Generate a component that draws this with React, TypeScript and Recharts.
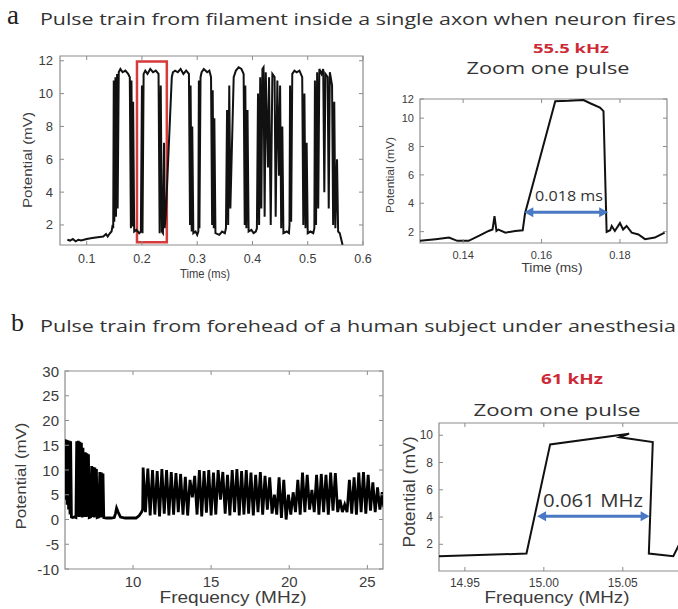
import React from 'react';
import { LineChart, Line, XAxis, YAxis, ReferenceArea, ReferenceLine } from 'recharts';

// ---------- data ----------
// a: pulse train inside a single axon, time (ms) vs potential (mV)
const trainA: [number, number][] = [
  [0.065, 1.1], [0.07, 1.05], [0.075, 1.15], [0.08, 1.0], [0.085, 1.1], [0.09, 1.05], [0.1, 1.15], [0.11, 1.2],
  [0.12, 1.25], [0.13, 1.3], [0.135, 1.45], [0.138, 1.3], [0.142, 1.5], [0.145, 1.6], [0.147, 2.0], [0.148, 1.8],
  [0.149, 10.8], [0.15, 2.2], [0.152, 11.0], [0.153, 2.5], [0.155, 11.2], [0.156, 3.0], [0.158, 11.3], [0.161, 11.5],
  [0.165, 11.3], [0.17, 11.4], [0.175, 11.2], [0.178, 11.0], [0.18, 1.8], [0.181, 10.8], [0.183, 1.9], [0.184, 9.5],
  [0.186, 1.6], [0.19, 1.7], [0.195, 1.5],
  [0.198, 1.6], [0.2, 10.5], [0.201, 1.5], [0.203, 11.2], [0.206, 11.4], [0.21, 11.2], [0.215, 11.5], [0.22, 11.3],
  [0.225, 11.4], [0.23, 11.2], [0.232, 1.5], [0.234, 10.5], [0.236, 1.6], [0.238, 1.5], [0.24, 7.0], [0.241, 1.8],
  [0.243, 2.5], [0.254, 11.0],
  [0.256, 11.3], [0.26, 11.4], [0.265, 11.3], [0.27, 11.5], [0.275, 11.2], [0.28, 11.4], [0.285, 11.2], [0.287, 2.0],
  [0.288, 10.5], [0.29, 1.6], [0.291, 8.0], [0.293, 1.5], [0.297, 1.6], [0.3, 1.4],
  [0.302, 1.6], [0.303, 10.8], [0.304, 1.8], [0.306, 11.0], [0.308, 11.3], [0.312, 11.5], [0.318, 11.3], [0.322, 11.4],
  [0.325, 11.0], [0.327, 2.0], [0.328, 10.2], [0.33, 1.8], [0.331, 8.5], [0.333, 1.5], [0.34, 1.4], [0.345, 1.6], [0.35, 1.5],
  [0.352, 1.8], [0.354, 9.0], [0.356, 2.0], [0.358, 10.5], [0.36, 3.0], [0.366, 11.0], [0.37, 11.4], [0.375, 11.6],
  [0.38, 11.5], [0.384, 11.2], [0.386, 2.0], [0.387, 10.5], [0.389, 1.8], [0.391, 9.0], [0.393, 1.6], [0.398, 1.7],
  [0.402, 1.5], [0.406, 1.6],
  [0.408, 1.8], [0.41, 10.0], [0.412, 2.0], [0.414, 11.0], [0.416, 3.0], [0.418, 11.5], [0.42, 11.6], [0.422, 2.5],
  [0.424, 11.3], [0.428, 5.5], [0.43, 11.0], [0.433, 2.0], [0.436, 11.2], [0.44, 11.0], [0.442, 2.5], [0.445, 10.8],
  [0.448, 5.0], [0.45, 10.5], [0.452, 1.8], [0.454, 8.0], [0.456, 1.5], [0.462, 1.6], [0.466, 1.5],
  [0.467, 2.0], [0.468, 10.5], [0.47, 2.2], [0.472, 11.2], [0.476, 11.4], [0.48, 11.3], [0.485, 11.4], [0.49, 11.0],
  [0.492, 2.0], [0.494, 10.0], [0.496, 1.8], [0.498, 7.0], [0.5, 1.5], [0.505, 1.6], [0.51, 1.5],
  [0.512, 1.8], [0.513, 10.8], [0.515, 2.0], [0.517, 11.3], [0.519, 3.0], [0.521, 11.5], [0.525, 11.2], [0.528, 11.5],
  [0.53, 4.0], [0.532, 11.2], [0.536, 11.0], [0.538, 3.0], [0.54, 11.3], [0.544, 10.5], [0.546, 2.0], [0.548, 9.5],
  [0.55, 1.8], [0.553, 6.0], [0.555, 1.6], [0.558, 1.5], [0.56, 1.2], [0.563, 0.8],
];

// a: zoom on one pulse
const pulseA: [number, number][] = [
  [0.1287, 1.35], [0.133, 1.47], [0.1364, 1.58], [0.1385, 1.35], [0.1414, 1.35], [0.144, 1.7], [0.1465, 2.05],
  [0.1475, 2.15], [0.148, 3.1], [0.1485, 2.05], [0.149, 2.15], [0.1508, 1.93], [0.1533, 2.05], [0.1552, 2.1],
  [0.1558, 3.3], [0.1635, 11.2], [0.1669, 11.22], [0.1707, 11.28], [0.1724, 11.05], [0.1749, 10.75], [0.1758, 10.5],
  [0.1766, 1.98], [0.1775, 2.1], [0.1779, 2.4], [0.1787, 2.05], [0.18, 2.6], [0.1808, 2.15], [0.1817, 2.4],
  [0.183, 1.93], [0.1847, 1.8], [0.1864, 1.47], [0.1889, 1.58], [0.1914, 1.93],
];

// b: pulse train from forehead, frequency (MHz) vs potential (mV)
const trainB: [number, number][] = [
  [5.65, 16.2], [5.7, 4.0], [5.74, 16.1], [5.79, 3.0], [5.83, 16.0], [5.88, 2.0], [5.92, 15.9], [5.97, 1.0], [6.01, 15.8], [6.06, 0.5],
  [6.15, 0.4], [6.25, 0.5], [6.35, 0.4],
  [6.4, 15.8], [6.45, 0.6], [6.5, 15.9], [6.55, 0.5], [6.6, 15.7], [6.65, 0.6], [6.7, 15.5], [6.75, 0.4], [6.8, 14.5], [6.85, 0.5],
  [6.95, 13.6], [7.0, 0.5], [7.05, 13.4], [7.1, 0.6], [7.15, 13.2], [7.2, 0.4], [7.28, 0.5],
  [7.36, 10.8], [7.41, 0.5], [7.46, 10.6], [7.51, 0.4], [7.56, 10.5], [7.61, 0.5], [7.66, 10.2], [7.71, 0.4], [7.8, 0.5],
  [7.88, 9.6], [7.93, 0.4], [7.98, 9.5], [8.03, 0.5], [8.08, 9.3], [8.13, 0.4],
  [8.3, 0.3], [8.6, 0.3], [8.8, 0.4], [8.88, 1.2], [8.95, 2.3], [9.05, 1.5], [9.2, 0.5], [9.5, 0.3], [9.9, 0.3],
  [10.2, 0.3], [10.4, 0.8], [10.55, 1.5], [10.62, 2.0],
  [10.65, 10.5], [10.8, 1.5], [10.95, 10.3], [11.1, 0.8], [11.25, 10.0], [11.4, 1.0], [11.55, 9.8], [11.7, 0.6],
  [11.85, 10.2], [12.0, 1.2], [12.15, 10.0], [12.3, 0.8], [12.45, 9.6], [12.6, 1.0], [12.75, 9.4], [12.9, 1.5],
  [13.05, 9.2], [13.2, 1.0], [13.35, 8.6], [13.5, 0.8], [13.65, 8.0], [13.8, 4.5], [13.95, 8.8], [14.1, 1.0],
  [14.25, 10.0], [14.4, 0.6], [14.55, 9.8], [14.7, 1.4], [14.85, 10.0], [15.0, 0.8], [15.15, 9.5], [15.3, 1.0],
  [15.45, 10.0], [15.6, 4.0], [15.75, 9.6], [15.9, 1.2], [16.05, 9.0], [16.2, 0.8], [16.35, 10.0], [16.5, 1.5],
  [16.65, 10.2], [16.8, 0.8], [16.95, 9.8], [17.1, 1.0], [17.25, 10.0], [17.4, 1.2], [17.55, 9.5], [17.7, 0.8],
  [17.85, 9.0], [18.0, 1.5], [18.15, 9.6], [18.3, 1.0], [18.45, 8.8], [18.6, 2.0], [18.75, 8.5], [18.9, 1.2],
  [19.05, 5.0], [19.2, 1.0], [19.35, 8.5], [19.5, 0.3], [19.65, 8.0], [19.8, 0.0], [19.95, 5.0], [20.1, 1.0],
  [20.25, 5.5], [20.4, 1.5], [20.55, 8.0], [20.7, 1.0], [20.85, 9.5], [21.0, 1.5], [21.15, 9.0], [21.3, 2.0],
  [21.45, 6.0], [21.6, 1.5], [21.75, 9.0], [21.9, 1.0], [22.05, 9.2], [22.2, 1.5], [22.35, 9.0], [22.5, 1.0],
  [22.65, 9.5], [22.8, 1.8], [22.95, 9.4], [23.1, 1.5], [23.25, 4.0], [23.4, 1.5], [23.55, 3.0], [23.7, 1.5],
  [23.85, 8.0], [24.0, 1.2], [24.15, 8.5], [24.3, 1.0], [24.45, 9.5], [24.6, 1.5], [24.75, 9.6], [24.9, 1.2],
  [25.05, 9.0], [25.2, 1.8], [25.35, 7.5], [25.5, 1.5], [25.65, 6.5], [25.8, 2.0], [25.95, 5.5], [26.05, 2.5],
];

// b: zoom on one pulse
const pulseB: [number, number][] = [
  [14.9336, 1.12], [14.989, 1.32], [15.004, 9.33], [15.047, 10.0], [15.054, 10.12], [15.048, 9.85],
  [15.069, 9.5], [15.0665, 1.32], [15.082, 1.12], [15.087, 2.3],
];

// axis ticks and ranges
const ticksAx = [0.1, 0.2, 0.3, 0.4, 0.5, 0.6];
const ticksAy = [2, 4, 6, 8, 10, 12];
const ticksA2x = [0.14, 0.16, 0.18];
const ticksA2y = [2, 4, 6, 8, 10, 11.35];
const ticksBx = [10, 15, 20, 25];
const ticksBy = [-10, -5, 0, 5, 10, 15, 20, 25, 30];
const ticksB2x = [14.95, 15.0, 15.05];
const ticksB2y = [2, 4, 6, 8, 10];

const domAx: [number, number] = [0.0517, 0.6];
const domAy: [number, number] = [0.78, 12.29];
const domA2x: [number, number] = [0.129, 0.192];
const domA2y: [number, number] = [1.2, 11.35];
const domBx: [number, number] = [5.65, 26];
const domBy: [number, number] = [-10, 30];
const domB2x: [number, number] = [14.9336, 15.0875];
const domB2y: [number, number] = [0.04, 10.9];

const rows = (p: [number, number][]) => p.map(([x, y]) => ({ x, y }));

const AX = '#8c8c8c';
const TXT = '#3c3c3c';
const SANS = 'Liberation Sans, Arial, sans-serif';
const TITLE = 'Open Sans, Noto Sans, sans-serif';

// inward MATLAB-style ticks on both sides of the box, drawn with each tick label
const makeXTick = (fs: number, m: number, plotH: number, fmt?: (v: number) => string) => (props: any) => {
  const { x, y, payload } = props;
  const ay = y - m;
  const v = payload.value;
  return (
    <g>
      <line x1={x} y1={ay} x2={x} y2={ay - 4} stroke={AX} />
      <line x1={x} y1={ay - plotH} x2={x} y2={ay - plotH + 4} stroke={AX} />
      <text x={x} y={y} dy="0.71em" textAnchor="middle" fontSize={fs} fill={TXT} fontFamily={SANS}>
        {fmt ? fmt(v) : String(v)}
      </text>
    </g>
  );
};
const makeYTick = (fs: number, m: number, plotW: number, fmt?: (v: number) => string) => (props: any) => {
  const { x, y, payload } = props;
  const ax = x + m;
  const v = payload.value;
  return (
    <g>
      <line x1={ax} y1={y} x2={ax + 4} y2={y} stroke={AX} />
      <line x1={ax + plotW} y1={y} x2={ax + plotW - 4} y2={y} stroke={AX} />
      <text x={x} y={y} textAnchor="end" dominantBaseline="central" fontSize={fs} fill={TXT} fontFamily={SANS}>
        {fmt ? fmt(v) : String(v)}
      </text>
    </g>
  );
};

const arrowShape = (color: string) => (props: any) => {
  const { x1, y1, x2, y2 } = props;
  const h = 7;
  const w = 5;
  return (
    <g>
      <line x1={x1 + h} y1={y1} x2={x2 - h} y2={y2} stroke={color} strokeWidth={3} />
      <polygon points={`${x1},${y1} ${x1 + h + 2},${y1 - w} ${x1 + h + 2},${y1 + w}`} fill={color} />
      <polygon points={`${x2},${y2} ${x2 - h - 2},${y2 - w} ${x2 - h - 2},${y2 + w}`} fill={color} />
    </g>
  );
};

const Box = (dx: [number, number], dy: [number, number]) => (
  <ReferenceArea x1={dx[0]} x2={dx[1]} y1={dy[0]} y2={dy[1]} fill="none" fillOpacity={0}
    stroke={AX} strokeWidth={1.2} ifOverflow="visible" />
);

export default function App() {
  return (
    <div style={{ position: 'absolute', left: 0, top: 0, width: 678, height: 609, overflow: 'hidden', background: '#fff' }}>
      {/* a: full train */}
      <div style={{ position: 'absolute', left: 0, top: 40 }}>
        <LineChart width={378} height={240} data={rows(trainA)} margin={{ top: 16, right: 15, bottom: 0, left: 0 }}>
          <XAxis dataKey="x" type="number" domain={domAx} ticks={ticksAx} interval={0} allowDataOverflow height={35}
            axisLine={false} tickLine={false} tickSize={0} tickMargin={9} tick={makeXTick(12.5, 9, 189)} />
          <YAxis type="number" domain={domAy} ticks={ticksAy} interval={0} allowDataOverflow width={60}
            axisLine={false} tickLine={false} tickSize={0} tickMargin={7} tick={makeYTick(13, 7, 303)} />
          {Box(domAx, domAy)}
          <Line dataKey="y" type="linear" stroke="#111" strokeWidth={2} dot={false} isAnimationActive={false} />
          <ReferenceArea x1={0.191} x2={0.245} y1={0.95} y2={11.95} fill="none" fillOpacity={0}
            stroke="#d63a3a" strokeWidth={2.5} ifOverflow="visible" />
        </LineChart>
      </div>

      {/* a: zoom one pulse */}
      <div style={{ position: 'absolute', left: 380, top: 80 }}>
        <LineChart width={298} height={200} data={rows(pulseA)} margin={{ top: 19, right: 11, bottom: 0, left: 0 }}>
          <XAxis dataKey="x" type="number" domain={domA2x} ticks={ticksA2x} interval={0} allowDataOverflow height={37}
            axisLine={false} tickLine={false} tickSize={0} tickMargin={8}
            tick={makeXTick(11, 8, 144, (v) => v.toFixed(2))} />
          <YAxis type="number" domain={domA2y} ticks={ticksA2y} interval={0} allowDataOverflow width={40}
            axisLine={false} tickLine={false} tickSize={0} tickMargin={6}
            tick={makeYTick(11, 6, 247, (v) => (v > 11 ? '12' : String(v)))} />
          {Box(domA2x, domA2y)}
          <Line dataKey="y" type="linear" stroke="#111" strokeWidth={2} dot={false} isAnimationActive={false} />
          <ReferenceLine segment={[{ x: 0.1556, y: 3.37 }, { x: 0.177, y: 3.37 }]} ifOverflow="visible"
            shape={arrowShape('#4a78c2')} />
        </LineChart>
      </div>

      {/* b: full train */}
      <div style={{ position: 'absolute', left: 0, top: 340 }}>
        <LineChart width={400} height={260} data={rows(trainB)} margin={{ top: 31, right: 17, bottom: 0, left: 0 }}>
          <XAxis dataKey="x" type="number" domain={domBx} ticks={ticksBx} interval={0} allowDataOverflow height={31}
            axisLine={false} tickLine={false} tickSize={0} tickMargin={7} tick={makeXTick(15, 7, 198)} />
          <YAxis type="number" domain={domBy} ticks={ticksBy} interval={0} allowDataOverflow width={65}
            axisLine={false} tickLine={false} tickSize={0} tickMargin={6} tick={makeYTick(15, 6, 318)} />
          {Box(domBx, domBy)}
          <Line dataKey="y" type="linear" stroke="#000" strokeWidth={2.8} dot={false} isAnimationActive={false} />
        </LineChart>
      </div>

      {/* b: zoom one pulse */}
      <div style={{ position: 'absolute', left: 400, top: 400 }}>
        <LineChart width={290} height={200} data={rows(pulseB)} margin={{ top: 23, right: 8, bottom: 0, left: 0 }}>
          <XAxis dataKey="x" type="number" domain={domB2x} ticks={ticksB2x} interval={0} allowDataOverflow height={29}
            axisLine={false} tickLine={false} tickSize={0} tickMargin={7}
            tick={makeXTick(12, 7, 148, (v) => v.toFixed(2))} />
          <YAxis type="number" domain={domB2y} ticks={ticksB2y} interval={0} allowDataOverflow width={39}
            axisLine={false} tickLine={false} tickSize={0} tickMargin={6} tick={makeYTick(12, 6, 243)} />
          {Box(domB2x, domB2y)}
          <Line dataKey="y" type="linear" stroke="#111" strokeWidth={2} dot={false} isAnimationActive={false} />
          <ReferenceLine segment={[{ x: 14.9957, y: 4.05 }, { x: 15.067, y: 4.05 }]} ifOverflow="visible"
            shape={arrowShape('#4a78c2')} />
        </LineChart>
      </div>

      {/* titles and axis labels */}
      <svg width={678} height={609} style={{ position: 'absolute', left: 0, top: 0, pointerEvents: 'none' }}>
        <text x={7} y={24} fontFamily="Liberation Serif, serif" fontSize={27} fill="#222">a</text>
        <text x={40} y={18} dominantBaseline="central" fontFamily={TITLE} fontSize={17} fill="#333"
          textLength={636} lengthAdjust="spacingAndGlyphs">Pulse train from filament inside a single axon when neuron fires</text>
        <text x={571} y={48} dominantBaseline="central" textAnchor="middle" fontFamily={TITLE} fontWeight="bold"
          fontSize={13} fill="#cc2a36" textLength={76} lengthAdjust="spacingAndGlyphs">55.5 kHz</text>
        <text x={548} y={68} dominantBaseline="central" textAnchor="middle" fontFamily={TITLE} fontSize={16}
          fill="#333" textLength={163} lengthAdjust="spacingAndGlyphs">Zoom one pulse</text>
        <text transform="translate(27,160) rotate(-90)" dominantBaseline="central" textAnchor="middle" fontFamily={SANS}
          fontSize={13} fill={TXT} textLength={96} lengthAdjust="spacingAndGlyphs">Potential (mV)</text>
        <text x={205} y={274} dominantBaseline="central" textAnchor="middle" fontFamily={SANS} fontSize={12}
          fill={TXT} textLength={50} lengthAdjust="spacingAndGlyphs">Time (ms)</text>
        <text transform="translate(390,175) rotate(-90)" dominantBaseline="central" textAnchor="middle" fontFamily={SANS}
          fontSize={11} fill={TXT} textLength={76} lengthAdjust="spacingAndGlyphs">Potential (mV)</text>
        <text x={552} y={268} dominantBaseline="central" textAnchor="middle" fontFamily={SANS} fontSize={12}
          fill={TXT} textLength={61} lengthAdjust="spacingAndGlyphs">Time (ms)</text>
        <text x={569} y={195} dominantBaseline="central" textAnchor="middle" fontFamily={TITLE} fontSize={14}
          fill="#333" textLength={68} lengthAdjust="spacingAndGlyphs">0.018 ms</text>

        <text x={11} y={331} fontFamily="Liberation Serif, serif" fontSize={26} fill="#222">b</text>
        <text x={40} y={325} dominantBaseline="central" fontFamily={TITLE} fontSize={17} fill="#333"
          textLength={636} lengthAdjust="spacingAndGlyphs">Pulse train from forehead of a human subject under anesthesia</text>
        <text x={572} y={378} dominantBaseline="central" textAnchor="middle" fontFamily={TITLE} fontWeight="bold"
          fontSize={14} fill="#cc2a36" textLength={62} lengthAdjust="spacingAndGlyphs">61 kHz</text>
        <text x={557} y={409} dominantBaseline="central" textAnchor="middle" fontFamily={TITLE} fontSize={17}
          fill="#333" textLength={167} lengthAdjust="spacingAndGlyphs">Zoom one pulse</text>
        <text transform="translate(20,476) rotate(-90)" dominantBaseline="central" textAnchor="middle" fontFamily={SANS}
          fontSize={15} fill={TXT} textLength={107} lengthAdjust="spacingAndGlyphs">Potential (mV)</text>
        <text x={233} y={597} dominantBaseline="central" textAnchor="middle" fontFamily={SANS} fontSize={16}
          fill={TXT} textLength={147} lengthAdjust="spacingAndGlyphs">Frequency (MHz)</text>
        <text transform="translate(409,492) rotate(-90)" dominantBaseline="central" textAnchor="middle" fontFamily={SANS}
          fontSize={16} fill={TXT} textLength={111} lengthAdjust="spacingAndGlyphs">Potential (mV)</text>
        <text x={557} y={597} dominantBaseline="central" textAnchor="middle" fontFamily={SANS} fontSize={16}
          fill={TXT} textLength={145} lengthAdjust="spacingAndGlyphs">Frequency (MHz)</text>
        <text x={593} y={500} dominantBaseline="central" textAnchor="middle" fontFamily={TITLE} fontSize={18}
          fill="#333" textLength={100} lengthAdjust="spacingAndGlyphs">0.061 MHz</text>
      </svg>
    </div>
  );
}
